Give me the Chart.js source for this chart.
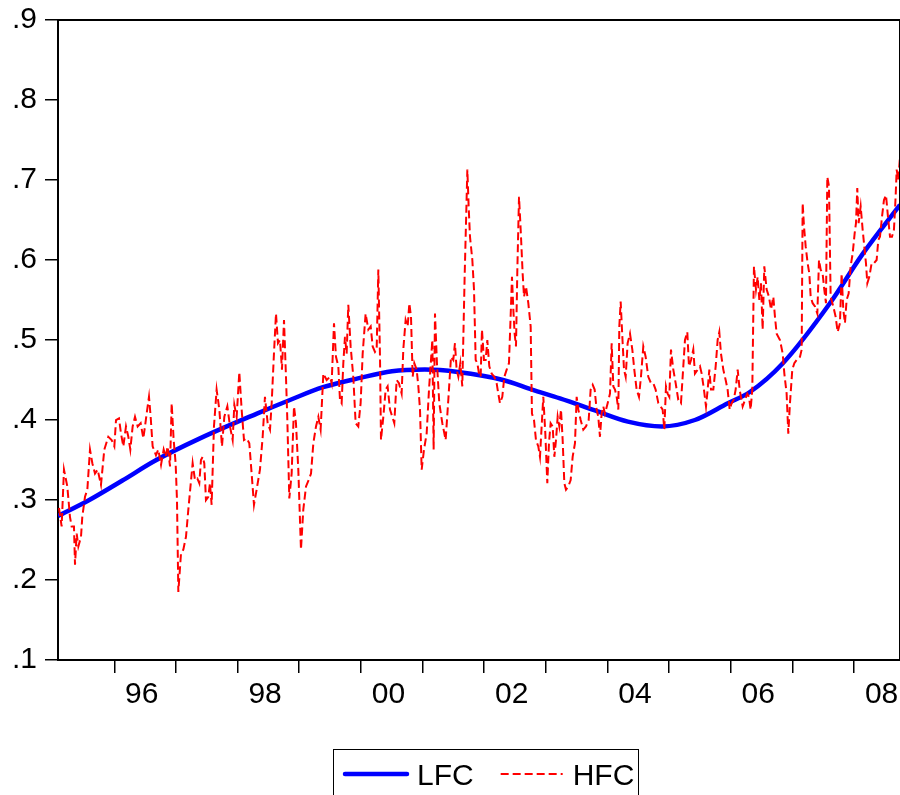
<!DOCTYPE html>
<html lang="en">
<head>
  <meta charset="UTF-8">
  <title>LFC / HFC</title>
  <script src="https://cdn.jsdelivr.net/npm/chart.js"></script>
  <style>
    * { font-family: "Liberation Sans", Arial, Helvetica, sans-serif; }
    body { margin: 0; background: #ffffff; }
    #chartContainer { position: relative; width: 900px; height: 795px; }
  </style>
</head>
<body>
  <div id="chartContainer">
    <canvas id="fcChart"></canvas>
  </div>

  <script>
    // sample range (decimal years)
    const xMin = 1995.087;
    const xMax = 2008.745;

    const yearTicks = [1996, 1997, 1998, 1999, 2000, 2001, 2002, 2003, 2004, 2005, 2006, 2007, 2008];
    const yearLabels = ['96', '', '98', '', '00', '', '02', '', '04', '', '06', '', '08'];
    const yTickValues = [0.1, 0.2, 0.3, 0.4, 0.5, 0.6, 0.7, 0.8, 0.9];
    const yTickLabels = ['.1', '.2', '.3', '.4', '.5', '.6', '.7', '.8', '.9'];

    // low frequency component (smooth trend)
    const lfcYears = [1995.087, 1995.573, 1996.125, 1996.660, 1997.390, 1998.314, 1998.849,
      1999.385, 1999.952, 2000.504, 2001.039, 2001.575, 2002.305, 2002.775, 2003.229, 2003.796,
      2004.331, 2004.883, 2005.418, 2005.953, 2006.310, 2006.845, 2007.608, 2008.143, 2008.745];
    const lfcValues = [0.280, 0.299, 0.324, 0.349, 0.377, 0.408, 0.425,
      0.441, 0.452, 0.461, 0.463, 0.460, 0.450, 0.438, 0.427, 0.412,
      0.398, 0.392, 0.400, 0.421, 0.435, 0.471, 0.546, 0.608, 0.669];

    // high frequency component
    const hfcYears = [
      1995.103, 1995.146, 1995.184, 1995.238, 1995.281, 1995.308, 1995.346, 1995.363, 1995.390, 1995.417,
      1995.460, 1995.481, 1995.525, 1995.563, 1995.606, 1995.644, 1995.687, 1995.730, 1995.784, 1995.838,
      1995.903, 1995.957, 1996.001, 1996.028, 1996.076, 1996.109, 1996.147, 1996.190, 1996.228, 1996.260,
      1996.298, 1996.336, 1996.379, 1996.428, 1996.471, 1996.498, 1996.525, 1996.563, 1996.590, 1996.622,
      1996.676, 1996.714, 1996.758, 1996.801, 1996.833, 1996.866, 1996.904, 1996.931, 1996.963, 1996.995,
      1997.017, 1997.039, 1997.082, 1997.120, 1997.163, 1997.201, 1997.271, 1997.309, 1997.347, 1997.379,
      1997.406, 1997.433, 1997.460, 1997.487, 1997.525, 1997.552, 1997.579, 1997.617, 1997.660, 1997.704,
      1997.747, 1997.785, 1997.834, 1997.877, 1997.920, 1997.947, 1997.985, 1998.028, 1998.066, 1998.104,
      1998.147, 1998.190, 1998.228, 1998.266, 1998.309, 1998.363, 1998.407, 1998.444, 1998.488, 1998.526,
      1998.553, 1998.590, 1998.623, 1998.655, 1998.688, 1998.720, 1998.753, 1998.785, 1998.807, 1998.839,
      1998.877, 1998.915, 1998.947, 1998.985, 1999.028, 1999.066, 1999.110, 1999.153, 1999.191, 1999.229,
      1999.272, 1999.310, 1999.347, 1999.391, 1999.445, 1999.499, 1999.526, 1999.564, 1999.596, 1999.634,
      1999.661, 1999.688, 1999.715, 1999.742, 1999.769, 1999.796, 1999.834, 1999.877, 1999.915, 1999.958,
      1999.996, 2000.029, 2000.077, 2000.121, 2000.159, 2000.191, 2000.229, 2000.256, 2000.283, 2000.310,
      2000.326, 2000.364, 2000.402, 2000.434, 2000.472, 2000.510, 2000.542, 2000.580, 2000.618, 2000.661,
      2000.688, 2000.726, 2000.759, 2000.786, 2000.813, 2000.840, 2000.867, 2000.905, 2000.932, 2000.959,
      2000.986, 2001.024, 2001.067, 2001.105, 2001.137, 2001.159, 2001.180, 2001.202, 2001.234, 2001.272,
      2001.321, 2001.375, 2001.418, 2001.462, 2001.499, 2001.526, 2001.553, 2001.581, 2001.613, 2001.645,
      2001.683, 2001.727, 2001.748, 2001.770, 2001.808, 2001.835, 2001.862, 2001.889, 2001.916, 2001.943,
      2001.964, 2001.997, 2002.024, 2002.051, 2002.083, 2002.121, 2002.164, 2002.202, 2002.229, 2002.256,
      2002.294, 2002.327, 2002.365, 2002.402, 2002.429, 2002.451, 2002.473, 2002.494, 2002.516, 2002.538,
      2002.565, 2002.592, 2002.624, 2002.646, 2002.678, 2002.716, 2002.754, 2002.775, 2002.808, 2002.840,
      2002.878, 2002.905, 2002.932, 2002.959, 2002.992, 2003.024, 2003.051, 2003.078, 2003.111, 2003.138,
      2003.165, 2003.192, 2003.219, 2003.246, 2003.273, 2003.300, 2003.327, 2003.365, 2003.403, 2003.435,
      2003.473, 2003.500, 2003.527, 2003.565, 2003.608, 2003.651, 2003.695, 2003.727, 2003.760, 2003.792,
      2003.824, 2003.851, 2003.878, 2003.905, 2003.932, 2003.959, 2004.003, 2004.041, 2004.068, 2004.095,
      2004.122, 2004.149, 2004.176, 2004.192, 2004.214, 2004.241, 2004.268, 2004.295, 2004.327, 2004.365,
      2004.403, 2004.435, 2004.473, 2004.511, 2004.543, 2004.581, 2004.619, 2004.662, 2004.706, 2004.743,
      2004.781, 2004.825, 2004.862, 2004.895, 2004.922, 2004.949, 2004.976, 2005.003, 2005.030, 2005.068,
      2005.106, 2005.149, 2005.192, 2005.230, 2005.257, 2005.295, 2005.322, 2005.355, 2005.392, 2005.419,
      2005.463, 2005.501, 2005.528, 2005.565, 2005.598, 2005.625, 2005.652, 2005.679, 2005.717, 2005.755,
      2005.787, 2005.814, 2005.841, 2005.879, 2005.917, 2005.949, 2005.982, 2006.014, 2006.047, 2006.079,
      2006.112, 2006.144, 2006.193, 2006.230, 2006.268, 2006.295, 2006.322, 2006.349, 2006.376, 2006.409,
      2006.436, 2006.463, 2006.490, 2006.517, 2006.544, 2006.582, 2006.620, 2006.652, 2006.690, 2006.717,
      2006.744, 2006.798, 2006.842, 2006.869, 2006.906, 2006.933, 2006.960, 2006.998, 2007.031, 2007.069,
      2007.123, 2007.150, 2007.166, 2007.188, 2007.215, 2007.247, 2007.274, 2007.296, 2007.328, 2007.366,
      2007.404, 2007.431, 2007.458, 2007.490, 2007.517, 2007.544, 2007.566, 2007.593, 2007.620, 2007.663,
      2007.701, 2007.734, 2007.771, 2007.798, 2007.825, 2007.852, 2007.879, 2007.912, 2007.944, 2007.977,
      2008.009, 2008.031, 2008.052, 2008.074, 2008.107, 2008.139, 2008.166, 2008.193, 2008.215, 2008.247,
      2008.285, 2008.323, 2008.366, 2008.393, 2008.420, 2008.453, 2008.485, 2008.518, 2008.550, 2008.583,
      2008.615, 2008.647, 2008.674, 2008.691, 2008.717, 2008.745
    ];
    const hfcValues = [
      0.290, 0.267, 0.338, 0.317, 0.279, 0.267, 0.267, 0.219, 0.258, 0.242,
      0.254, 0.279, 0.304, 0.313, 0.363, 0.346, 0.333, 0.338, 0.319, 0.363,
      0.379, 0.375, 0.367, 0.400, 0.402, 0.383, 0.367, 0.392, 0.379, 0.363,
      0.392, 0.404, 0.392, 0.396, 0.377, 0.392, 0.408, 0.429, 0.404, 0.367,
      0.356, 0.363, 0.344, 0.363, 0.354, 0.367, 0.342, 0.421, 0.375, 0.346,
      0.300, 0.185, 0.233, 0.238, 0.254, 0.288, 0.346, 0.325, 0.327, 0.321,
      0.350, 0.354, 0.346, 0.300, 0.304, 0.321, 0.294, 0.392, 0.438, 0.413,
      0.367, 0.404, 0.417, 0.392, 0.375, 0.419, 0.404, 0.460, 0.413, 0.375,
      0.377, 0.371, 0.333, 0.294, 0.313, 0.338, 0.379, 0.429, 0.396, 0.388,
      0.421, 0.483, 0.533, 0.496, 0.500, 0.463, 0.525, 0.454, 0.400, 0.302,
      0.333, 0.417, 0.396, 0.338, 0.238, 0.288, 0.317, 0.325, 0.333, 0.371,
      0.392, 0.404, 0.388, 0.458, 0.450, 0.454, 0.446, 0.521, 0.479, 0.467,
      0.425, 0.421, 0.471, 0.504, 0.483, 0.544, 0.492, 0.454, 0.396, 0.392,
      0.421, 0.483, 0.533, 0.513, 0.517, 0.492, 0.485, 0.488, 0.588, 0.479,
      0.375, 0.404, 0.438, 0.442, 0.413, 0.404, 0.396, 0.450, 0.446, 0.433,
      0.488, 0.525, 0.517, 0.546, 0.529, 0.454, 0.471, 0.463, 0.442, 0.413,
      0.338, 0.363, 0.383, 0.438, 0.475, 0.500, 0.363, 0.533, 0.471, 0.421,
      0.396, 0.375, 0.425, 0.479, 0.475, 0.496, 0.463, 0.454, 0.471, 0.442,
      0.579, 0.713, 0.667, 0.629, 0.600, 0.563, 0.475, 0.471, 0.458, 0.454,
      0.513, 0.475, 0.475, 0.500, 0.467, 0.458, 0.454, 0.446, 0.433, 0.421,
      0.429, 0.454, 0.463, 0.471, 0.529, 0.579, 0.538, 0.508, 0.492, 0.588,
      0.679, 0.638, 0.583, 0.554, 0.567, 0.546, 0.517, 0.408, 0.400, 0.375,
      0.367, 0.354, 0.392, 0.429, 0.383, 0.321, 0.371, 0.396, 0.392, 0.354,
      0.375, 0.404, 0.392, 0.413, 0.375, 0.321, 0.313, 0.317, 0.325, 0.354,
      0.371, 0.429, 0.413, 0.400, 0.388, 0.392, 0.400, 0.438, 0.444, 0.438,
      0.413, 0.404, 0.379, 0.408, 0.417, 0.408, 0.421, 0.433, 0.496, 0.442,
      0.438, 0.429, 0.413, 0.517, 0.548, 0.504, 0.463, 0.454, 0.496, 0.508,
      0.488, 0.463, 0.438, 0.429, 0.454, 0.492, 0.479, 0.454, 0.446, 0.446,
      0.438, 0.421, 0.417, 0.413, 0.388, 0.442, 0.433, 0.429, 0.488, 0.463,
      0.446, 0.425, 0.421, 0.467, 0.500, 0.510, 0.467, 0.475, 0.488, 0.458,
      0.463, 0.467, 0.458, 0.438, 0.417, 0.438, 0.463, 0.438, 0.438, 0.467,
      0.500, 0.510, 0.483, 0.463, 0.450, 0.438, 0.413, 0.421, 0.425, 0.438,
      0.463, 0.438, 0.417, 0.425, 0.433, 0.429, 0.413, 0.438, 0.592, 0.563,
      0.579, 0.550, 0.571, 0.513, 0.592, 0.563, 0.554, 0.538, 0.554, 0.529,
      0.508, 0.500, 0.483, 0.458, 0.433, 0.383, 0.421, 0.463, 0.471, 0.475,
      0.479, 0.488, 0.671, 0.642, 0.617, 0.596, 0.583, 0.554, 0.546, 0.542,
      0.533, 0.600, 0.588, 0.583, 0.563, 0.546, 0.704, 0.692, 0.554, 0.542,
      0.529, 0.510, 0.521, 0.583, 0.538, 0.521, 0.550, 0.558, 0.592, 0.608,
      0.633, 0.646, 0.690, 0.646, 0.667, 0.638, 0.617, 0.596, 0.571, 0.579,
      0.596, 0.596, 0.600, 0.625, 0.629, 0.654, 0.675, 0.681, 0.654, 0.629,
      0.629, 0.638, 0.679, 0.713, 0.700, 0.729
    ];

    const toPoints = (xs, ys) => xs.map((x, i) => ({ x: x, y: ys[i] }));

    const axisFont = { family: '"Liberation Sans", Arial, sans-serif', size: 30 };

    // box round the plot and the legend underneath it
    const framePlugin = {
      id: 'frameAndLegend',
      afterDatasetsDraw(chart) {
        const { ctx, chartArea } = chart;
        ctx.save();
        ctx.strokeStyle = '#000000';
        ctx.lineWidth = 2;
        ctx.beginPath();
        ctx.moveTo(chartArea.left, chartArea.top);
        ctx.lineTo(chartArea.right, chartArea.top);
        ctx.lineTo(chartArea.right, chartArea.bottom);
        ctx.stroke();
        ctx.restore();
      },
      afterDraw(chart) {
        const ctx = chart.ctx;
        const sets = chart.data.datasets;
        const boxLeft = 333, boxTop = 749, boxW = 305;
        const sampleW = 62, textGap = 10, itemGap = 27, midY = 774;
        ctx.save();
        ctx.strokeStyle = '#000000';
        ctx.lineWidth = 1;
        ctx.strokeRect(boxLeft + 0.5, boxTop + 0.5, boxW, 60);
        ctx.font = '30px "Liberation Sans", Arial, sans-serif';
        ctx.textBaseline = 'alphabetic';
        ctx.fillStyle = '#000000';
        let x = boxLeft + 12;
        sets.forEach(ds => {
          ctx.beginPath();
          ctx.strokeStyle = ds.borderColor;
          ctx.lineWidth = ds.borderWidth;
          ctx.lineCap = ds.borderDash ? 'butt' : 'round';
          ctx.setLineDash(ds.borderDash || []);
          ctx.moveTo(x, midY);
          ctx.lineTo(x + sampleW, midY);
          ctx.stroke();
          ctx.setLineDash([]);
          x += sampleW + textGap;
          ctx.fillText(ds.label, x, midY + 11);
          x += ctx.measureText(ds.label).width + itemGap;
        });
        ctx.restore();
      }
    };

    const ctx = document.getElementById('fcChart').getContext('2d');
    const fcChart = new Chart(ctx, {
      type: 'line',
      data: {
        datasets: [
          {
            label: 'LFC',
            data: toPoints(lfcYears, lfcValues),
            borderColor: '#0000ff',
            borderWidth: 4.5,
            pointRadius: 0,
            cubicInterpolationMode: 'monotone',
            order: 1
          },
          {
            label: 'HFC',
            data: toPoints(hfcYears, hfcValues),
            borderColor: '#ff0000',
            borderWidth: 2,
            borderDash: [8, 4],
            pointRadius: 0,
            tension: 0,
            order: 0
          }
        ]
      },
      options: {
        responsive: true,
        maintainAspectRatio: false,
        animation: false,
        layout: { padding: { top: 20, right: 0, bottom: 75, left: 0 } },
        plugins: {
          legend: { display: false },
          tooltip: { enabled: false }
        },
        scales: {
          x: {
            type: 'linear',
            min: xMin,
            max: xMax,
            afterBuildTicks: scale => { scale.ticks = yearTicks.map(v => ({ value: v })); },
            afterFit: scale => { scale.height = 60; },
            grid: { drawOnChartArea: false, tickLength: 13, color: '#000000', lineWidth: 1.5 },
            border: { color: '#000000', width: 2 },
            ticks: {
              autoSkip: false,
              maxRotation: 0,
              padding: 4,
              labelOffset: 27.5,
              color: '#000000',
              font: axisFont,
              callback: (value, index) => yearLabels[index]
            }
          },
          y: {
            min: 0.1,
            max: 0.9,
            afterBuildTicks: scale => { scale.ticks = yTickValues.map(v => ({ value: v })); },
            afterFit: scale => {
              scale.width = 58;
              scale.paddingTop = 0;
              scale.paddingBottom = 0;
            },
            grid: { drawOnChartArea: false, tickLength: 13, color: '#000000', lineWidth: 1.5 },
            border: { color: '#000000', width: 2 },
            ticks: {
              padding: 8,
              color: '#000000',
              font: axisFont,
              callback: (value, index) => yTickLabels[index]
            }
          }
        }
      },
      plugins: [framePlugin]
    });
  </script>
</body>
</html>
